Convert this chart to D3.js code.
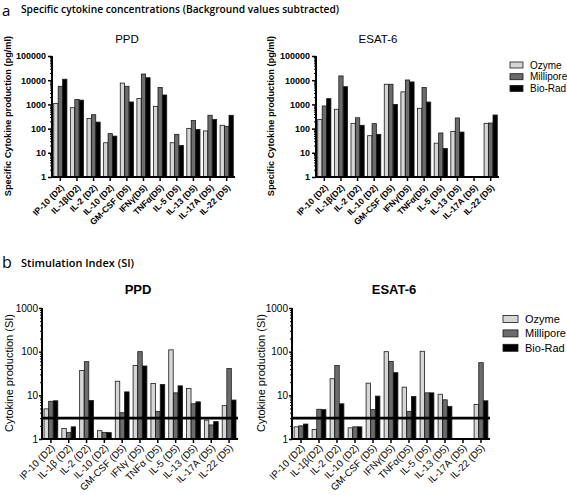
<!DOCTYPE html>
<html><head><meta charset="utf-8">
<script src="https://cdn.jsdelivr.net/npm/d3@7"></script>
<style>
html,body{margin:0;padding:0;background:#fff;}
svg{display:block;font-family:"Liberation Sans",Arial,sans-serif;}
</style></head>
<body><svg id="c" width="567" height="495"></svg>
<script>
const seriesNames = ["Ozyme","Millipore","Bio-Rad"];
const seriesFill = ["#d6d6d6","#6c6c6c","#000000"];

const catsA = ["IP-10 (D2)","IL-1β(D2)","IL-2 (D2)","IL-10 (D2)","GM-CSF (D5)","IFNγ(D5)","TNFα(D5)","IL-5 (D5)","IL-13 (D5)","IL-17A (D5)","IL-22 (D5)"];
const catsBPPD = ["IP-10 (D2)","IL-1β (D2)","IL-2 (D2)","IL-10 (D2)","GM-CSF (D5)","IFNγ (D5)","TNFα (D5)","IL-5 (D5)","IL-13 (D5)","IL-17A (D5)","IL-22 (D5)"];
const catsBESAT = catsA;

// Panel a: specific concentrations (pg/ml)
const ppdOzyme     = [1100, 730, 260, 26, 7600, 1740, 830, 26, 102, 80, 137];
const ppdMillipore = [5600, 1600, 375, 62, 5600, 18000, 5000, 58, 215, 355, 124];
const ppdBioRad    = [11000, 1500, 186, 49, 1260, 12700, 2450, 20, 93, 240, 355];

const esatOzyme     = [240, 630, 165, 51, 6800, 3300, 690, 25, 77, null, 165];
const esatMillipore = [860, 15000, 280, 160, 6800, 10200, 5000, 66, 275, null, 170];
const esatBioRad    = [1730, 5400, 137, 58, 1000, 8500, 1250, 15, 72, null, 365];

// Panel b: stimulation index
const siPpdOzyme     = [4.9, 1.75, 37, 1.55, 21, 48, 18.7, 110, 14.4, 2.7, 5.8];
const siPpdMillipore = [7.3, 1.4, 59, 1.42, 4.0, 100, 4.3, 11.4, 6.4, 2.1, 41];
const siPpdBioRad    = [7.5, 1.9, 7.6, 1.4, 12, 47, 17.7, 16.5, 7.1, 2.5, 7.8];

const siEsatOzyme     = [1.9, 1.65, 24, 1.8, 19, 100, 15.4, 102, 10.6, null, 6.2];
const siEsatMillipore = [2.0, 4.8, 48, 1.9, 4.7, 60, 4.3, 11.4, 7.9, null, 56];
const siEsatBioRad    = [2.2, 4.7, 6.4, 1.9, 9.6, 33, 9.4, 11.4, 5.6, null, 7.5];

const aTicks = [1,10,100,1000,10000,100000];
const bTicks = [1,10,100,1000];
const siThreshold = 3;

const svg = d3.select("#c");

function minorTicks(lo, hi){
  const out=[];
  for(let p=lo;p<hi;p*=10){for(let k=2;k<=9;k++)out.push(p*k);}
  return out;
}

function drawChart(o){
  const g = svg.append("g");
  const x = d3.scaleBand().domain(o.cats).range([o.x0,o.x1]);
  const y = d3.scaleLog().domain(o.domain).range([o.yb,o.yt]);
  const xi = d3.scaleBand().domain(seriesNames).range([-o.gw/2,o.gw/2]).paddingInner(0.04);
  const vals = [o.s1,o.s2,o.s3];
  seriesNames.forEach((s,si)=>{
    g.append("g").selectAll("rect").data(o.cats.map((c,i)=>({c,v:vals[si][i]})).filter(d=>d.v!=null))
      .join("rect")
      .attr("x",d=>x(d.c)+x.bandwidth()/2+xi(s))
      .attr("width",xi.bandwidth())
      .attr("y",d=>y(d.v))
      .attr("height",d=>y(o.domain[0])-y(d.v))
      .attr("fill",seriesFill[si])
      .attr("stroke","#1a1a1a").attr("stroke-width",0.8);
  });
  if(o.threshold){
    g.append("line").attr("x1",o.x0).attr("x2",o.x1)
      .attr("y1",y(o.threshold)).attr("y2",y(o.threshold))
      .attr("stroke","#000").attr("stroke-width",2.6);
  }
  // y axis
  const ya = g.append("g").attr("transform",`translate(${o.x0},0)`)
    .call(d3.axisLeft(y).tickValues(o.ticks).tickFormat(d3.format("d")).tickSize(o.tickLen).tickPadding(o.tickPad));
  g.append("g").attr("transform",`translate(${o.x0},0)`)
    .call(d3.axisLeft(y).tickValues(minorTicks(o.domain[0],o.domain[1])).tickFormat("").tickSize(2))
    .call(a=>a.select(".domain").remove())
    .selectAll("line").attr("stroke-width",1);
  ya.select(".domain").attr("stroke-width",2).attr("d",`M0,${o.yb}V${o.yt}`);
  ya.selectAll("line").attr("stroke-width",1.5);
  ya.selectAll("text").attr("font-size",o.tickFs).attr("font-weight",o.tickFw).attr("fill","#000");
  // x axis
  const xa = g.append("g").attr("transform",`translate(0,${o.yb})`)
    .call(d3.axisBottom(x).tickSize(4).tickFormat(""));
  xa.select(".domain").attr("stroke-width",2).attr("d",`M${o.x0},0H${o.x1}`);
  xa.selectAll("line").attr("stroke-width",1.5);
  g.append("g").selectAll("text").data(o.labels).join("text")
    .attr("transform",(d,i)=>`translate(${x(o.cats[i])+x.bandwidth()/2+2},${o.yb+o.lblDy}) rotate(-45)`)
    .attr("text-anchor","end").attr("dy","0.35em")
    .attr("font-size",o.lblFs).attr("font-weight",o.lblFw)
    .text(d=>d);
  // title
  g.append("text").attr("x",o.titleX).attr("y",o.titleY).attr("text-anchor","middle")
    .attr("font-size",o.titleFs).attr("font-weight",o.titleFw).text(o.title);
  // y label
  g.append("text").attr("transform",`translate(${o.ylX},${o.ylY}) rotate(-90)`)
    .attr("text-anchor","middle").attr("font-size",o.ylFs).attr("font-weight",o.ylFw).text(o.yLabel);
}

// Panel headers
svg.append("text").attr("x",2).attr("y",16).attr("font-size",15).attr("font-family","'Open Sans',sans-serif").text("a");
svg.append("text").attr("x",21).attr("y",13).attr("font-size",11).attr("font-weight",600)
  .attr("font-family","'Open Sans',sans-serif").attr("textLength",318).attr("lengthAdjust","spacingAndGlyphs")
  .text("Specific cytokine concentrations (Background values subtracted)");
svg.append("text").attr("x",2).attr("y",268).attr("font-size",16).attr("font-family","'Open Sans',sans-serif").text("b");
svg.append("text").attr("x",21).attr("y",267).attr("font-size",11).attr("font-weight",600)
  .attr("font-family","'Open Sans',sans-serif").attr("textLength",113).attr("lengthAdjust","spacingAndGlyphs")
  .text("Stimulation Index (SI)");

const commonA = {domain:[1,100000],ticks:aTicks,yb:177,yt:56,gw:13.2,tickFs:9,tickFw:"bold",tickLen:4,tickPad:2,
  lblFs:8.6,lblFw:"bold",lblDy:9,titleY:43,titleFs:11.5,titleFw:"normal",ylFs:9.2,ylFw:"bold",ylY:116,
  yLabel:"Specific Cytokine production (pg/ml)"};
drawChart(Object.assign({},commonA,{cats:catsA,labels:catsA,x0:52,x1:235,s1:ppdOzyme,s2:ppdMillipore,s3:ppdBioRad,
  title:"PPD",titleX:127,ylX:11}));
drawChart(Object.assign({},commonA,{cats:catsA,labels:catsA,x0:316,x1:499,s1:esatOzyme,s2:esatMillipore,s3:esatBioRad,
  title:"ESAT-6",titleX:378,ylX:274}));

const commonB = {domain:[1,1000],ticks:bTicks,yb:439,yt:308,gw:13.8,tickFs:10,tickFw:"normal",tickLen:3,tickPad:1,
  lblFs:9.8,lblFw:"normal",lblDy:7,titleY:294,titleFs:13,titleFw:"bold",ylFs:11,ylFw:"normal",ylY:373,
  yLabel:"Cytokine production (SI)",threshold:siThreshold};
drawChart(Object.assign({},commonB,{cats:catsBPPD,labels:catsBPPD,x0:42,x1:238,s1:siPpdOzyme,s2:siPpdMillipore,s3:siPpdBioRad,
  title:"PPD",titleX:138,ylX:13}));
drawChart(Object.assign({},commonB,{cats:catsBESAT,labels:catsBESAT,x0:292,x1:490,s1:siEsatOzyme,s2:siEsatMillipore,s3:siEsatBioRad,
  title:"ESAT-6",titleX:394,ylX:265}));

// Legends
function legend(x0,y0,dy,w,h,fs,gap){
  const lg = svg.append("g");
  seriesNames.forEach((s,i)=>{
    lg.append("rect").attr("x",x0).attr("y",y0+i*dy-h/2).attr("width",w).attr("height",h)
      .attr("fill",seriesFill[i]).attr("stroke","#1a1a1a").attr("stroke-width",0.8);
    lg.append("text").attr("x",x0+w+gap).attr("y",y0+i*dy).attr("dy","0.35em").attr("font-size",fs).text(s);
  });
}
legend(510,65,11.7,13,6,10,7);
legend(503,319,14.4,15,7,11,7);
</script>
</body></html>
